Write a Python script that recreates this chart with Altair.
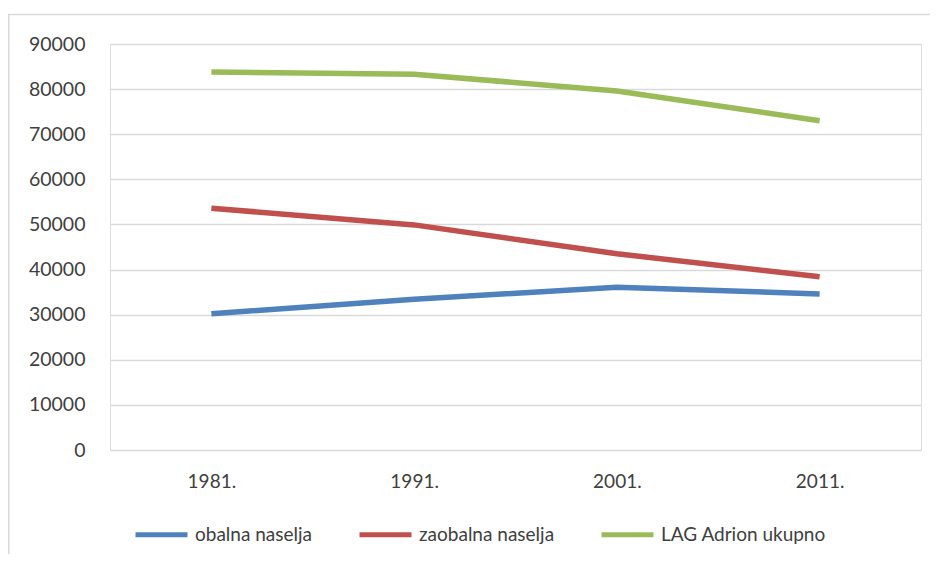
import altair as alt
import pandas as pd

years = ["1981.", "1991.", "2001.", "2011."]
series_names = ["obalna naselja", "zaobalna naselja", "LAG Adrion ukupno"]
obalna = [30200, 33400, 36100, 34600]
zaobalna = [53600, 49900, 43500, 38400]
ukupno = [83800, 83300, 79600, 73000]
colors = ["#4F81BD", "#C0504D", "#9BBB59"]
y_ticks = [0, 10000, 20000, 30000, 40000, 50000, 60000, 70000, 80000, 90000]

rows = []
for name, vals in zip(series_names, [obalna, zaobalna, ukupno]):
    for yr, v in zip(years, vals):
        rows.append({"godina": yr, "serija": name, "vrijednost": v})
df = pd.DataFrame(rows)

FONT = "Lato"
TXT = "#404040"
GRID = "#D9D9D9"

lines = alt.Chart(df).mark_line(strokeWidth=5.5, strokeJoin="round", strokeCap="butt").encode(
    x=alt.X("godina:N", sort=years,
            scale=alt.Scale(type="point", padding=0.5),
            axis=alt.Axis(title=None, labelAngle=0, ticks=False, domain=False, grid=False,
                          labelPadding=22, labelFontSize=19, labelColor=TXT, labelFont=FONT)),
    y=alt.Y("vrijednost:Q",
            scale=alt.Scale(domain=[0, 90000], nice=False),
            axis=alt.Axis(title=None, values=y_ticks, ticks=False, domain=False,
                          gridColor=GRID, gridWidth=1.5, labelPadding=25,
                          labelFontSize=19.5, labelColor=TXT, labelFont=FONT, format="d")),
    color=alt.Color("serija:N", sort=series_names,
                    scale=alt.Scale(domain=series_names, range=colors),
                    legend=alt.Legend(title=None, orient="none", direction="horizontal",
                                      legendX=23, legendY=462, padding=0,
                                      symbolType="stroke", symbolSize=2704, symbolStrokeWidth=5,
                                      labelFontSize=19, labelFont=FONT, labelColor=TXT,
                                      labelLimit=400, labelOffset=5, columnPadding=36)),
)

frame_df = pd.DataFrame({"k": [0]})
left_frame = alt.Chart(frame_df).mark_rule(color=GRID, strokeWidth=1.5).encode(
    x=alt.value(-101.25), y=alt.value(-29.5), y2=alt.value(520))
top_frame = alt.Chart(frame_df).mark_rule(color=GRID, strokeWidth=1.5).encode(
    x=alt.value(-102), x2=alt.value(830), y=alt.value(-29.5))

chart = alt.layer(left_frame, top_frame, lines).properties(
    width=811, height=406,
    autosize=alt.AutoSizeParams(type="none"),
    padding={"left": 102, "top": 36, "right": 9, "bottom": 104},
).configure_view(stroke=None).configure(background="white")

chart.save("out.html", embed_options={"renderer": "svg", "actions": False})
